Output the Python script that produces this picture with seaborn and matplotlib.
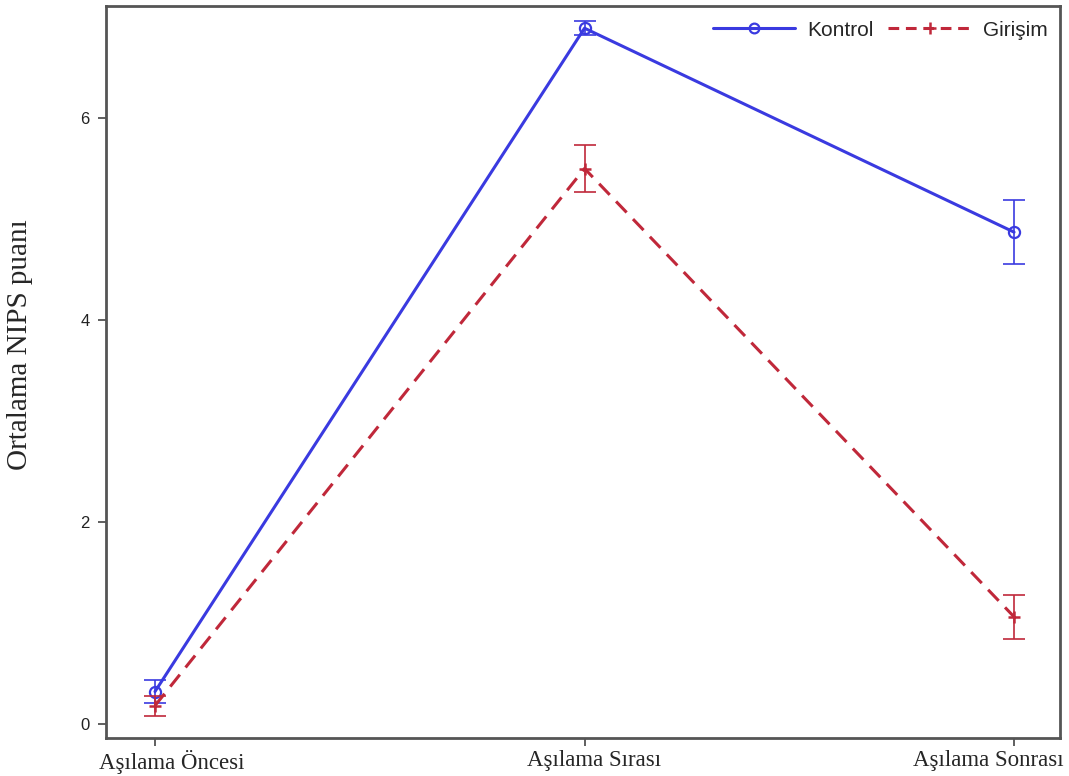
import matplotlib
matplotlib.use("Agg")
import matplotlib.pyplot as plt
from matplotlib.lines import Line2D
from matplotlib.transforms import ScaledTranslation
import seaborn as sns
import pandas as pd

# Measurement times and group means with error-bar half widths
times = ["Aşılama Öncesi", "Aşılama Sırası", "Aşılama Sonrası"]
kontrol_mean = [0.32, 6.89, 4.87]
kontrol_err = [0.11, 0.07, 0.32]
girisim_mean = [0.18, 5.50, 1.06]
girisim_err = [0.10, 0.23, 0.22]
groups = ["Kontrol", "Girişim"]

blue = "#3a3ae0"
red = "#c0283a"

df = pd.DataFrame({
    "time": times * 2,
    "pos": list(range(len(times))) * 2,
    "mean": kontrol_mean + girisim_mean,
    "err": kontrol_err + girisim_err,
    "group": [groups[0]] * 3 + [groups[1]] * 3,
})

sns.set_style("white")
plt.rcParams["font.family"] = ["Liberation Sans", "DejaVu Sans"]
serif = ["Liberation Serif", "DejaVu Serif"]

fig = plt.figure(figsize=(10.69, 7.76), dpi=100)
ax = fig.add_axes([0.0992, 0.049, 0.8924, 0.9433])

styles = {
    "Kontrol": dict(color=blue, linestyle="-", marker="o", markersize=8,
                    markerfacecolor="none", markeredgecolor=blue, markeredgewidth=1.6),
    "Girişim": dict(color=red, linestyle=(0, (5, 3)), marker="+", markersize=8,
                    markerfacecolor=red, markeredgecolor=red, markeredgewidth=1.8),
}

for g in groups:
    sub = df[df["group"] == g]
    sns.lineplot(data=sub, x="pos", y="mean", color=styles[g]["color"],
                 linewidth=2.2, ax=ax, legend=False)
    line = ax.lines[-1]
    line.set_linestyle(styles[g]["linestyle"])
    line.set_marker(styles[g]["marker"])
    line.set_markersize(styles[g]["markersize"])
    line.set_markerfacecolor(styles[g]["markerfacecolor"])
    line.set_markeredgecolor(styles[g]["markeredgecolor"])
    line.set_markeredgewidth(styles[g]["markeredgewidth"])
    ax.errorbar(sub["pos"], sub["mean"], yerr=sub["err"], fmt="none",
                ecolor=styles[g]["color"], elinewidth=1.4, capsize=8,
                capthick=1.4, alpha=0.85)

ax.set_xlim(-0.114, 2.107)
ax.set_ylim(-0.14, 7.11)
ax.set_xticks(range(len(times)))
ax.set_xticklabels(times)
ax.set_yticks([0, 2, 4, 6])
ax.tick_params(axis="both", direction="out", length=6, width=1.2, color="#444444",
               labelsize=12, bottom=True, left=True)
ax.tick_params(axis="y", pad=6, labelcolor="#222222")
ax.tick_params(axis="x", pad=3)
xlabels = ax.get_xticklabels()
shifts_px = [17, 10, -26]
for lbl, dx in zip(xlabels, shifts_px):
    lbl.set_fontfamily(serif)
    lbl.set_fontsize(16.5)
    lbl.set_verticalalignment("top")
    lbl.set_transform(lbl.get_transform() + ScaledTranslation(dx / 100, 0, fig.dpi_scale_trans))
ax.set_xlabel("")
ax.set_ylabel("Ortalama NIPS puanı", family=serif, fontsize=21)
ax.yaxis.set_label_coords(-0.0765, 0.537)

for s in ax.spines.values():
    s.set_color("#555555")
    s.set_linewidth(2)

handles = [Line2D([], [], linewidth=2.2, **styles[g]) for g in groups]
handles[0].set_markersize(7)
handles[1].set_linestyle((0, (3.5, 2.2)))
ax.legend(handles, groups, loc="upper right", ncol=2, frameon=False, fontsize=15,
          handlelength=3.95, columnspacing=0.72, handletextpad=0.58,
          borderaxespad=0.2, bbox_to_anchor=(1.0, 0.997))

fig.savefig("out.png", dpi=100)
